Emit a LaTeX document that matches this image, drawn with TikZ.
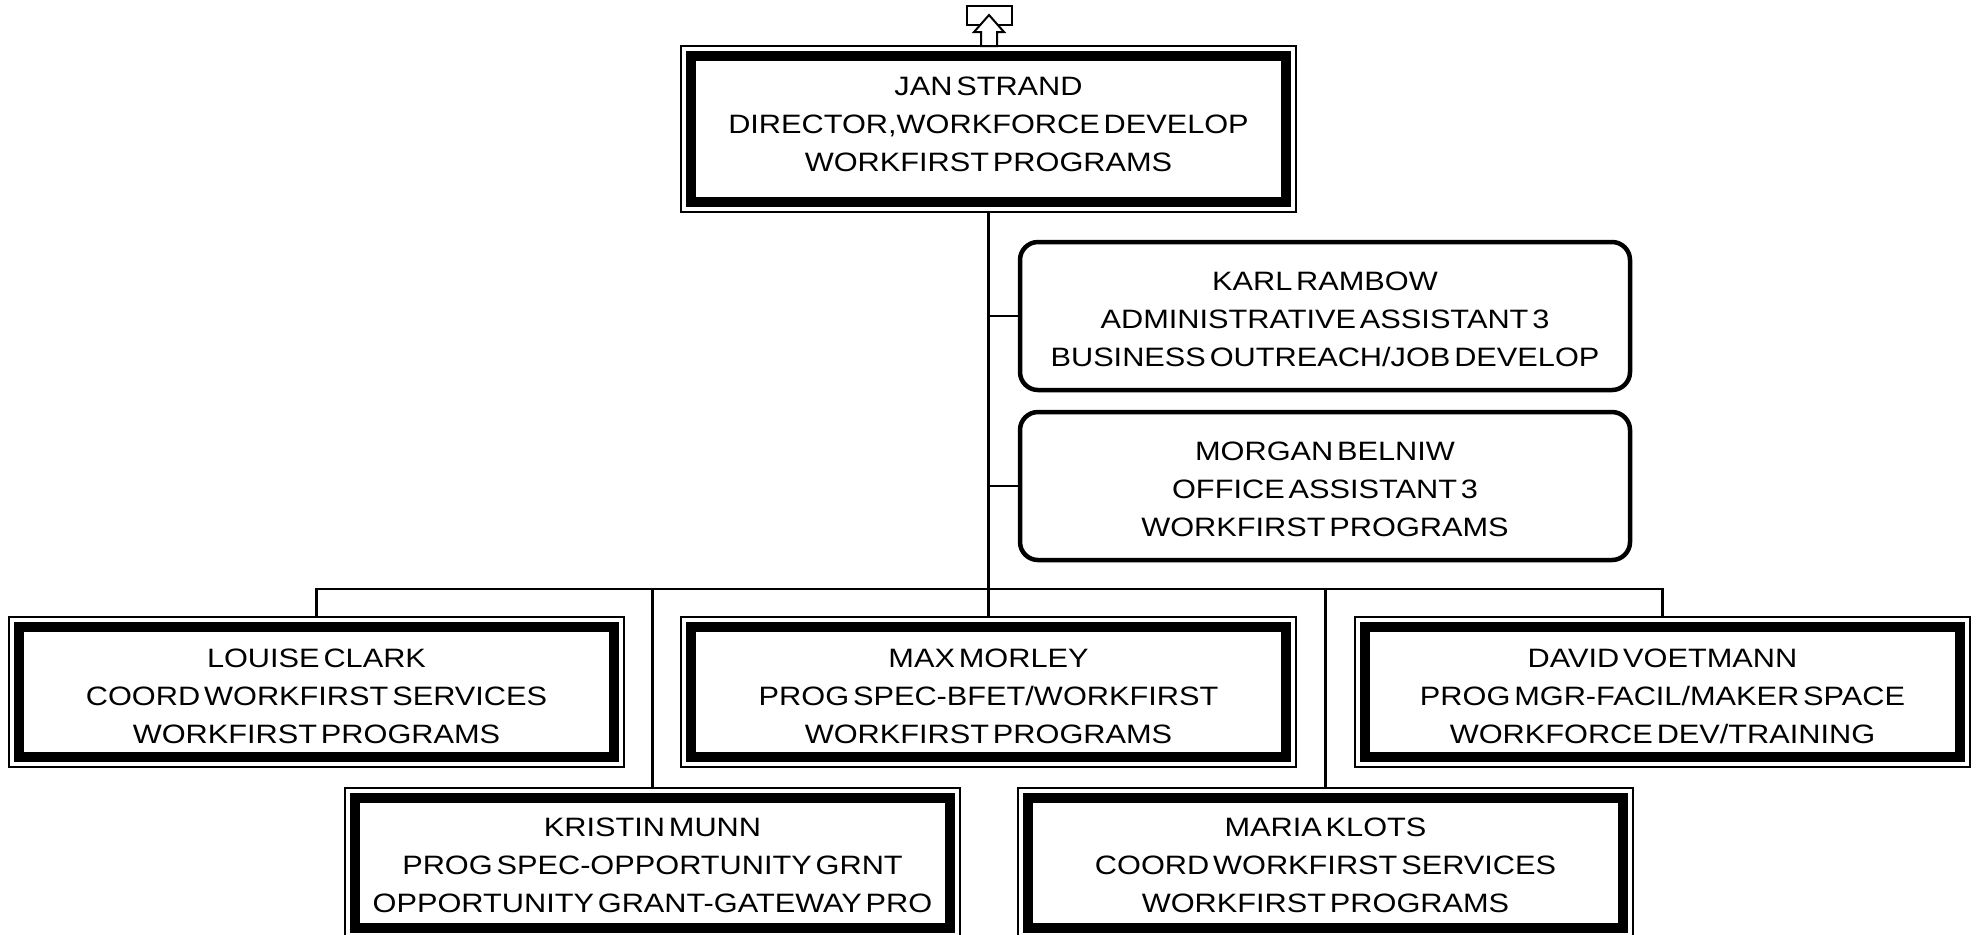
\documentclass[tikz,border=0pt]{standalone}
\usepackage{fontspec}
\setmainfont{Liberation Sans}[FakeStretch=1.155,WordSpace=0.45]
\usetikzlibrary{calc}

\begin{document}
\begin{tikzpicture}[
  x=0.5pt, y=-0.5pt,
  font=\fontsize{13.3}{19}\selectfont,
  wire/.style={line width=1.1pt, draw=black},
  post/.style={draw=black, fill=white, line width=1.25pt, align=center,
               inner sep=0pt, outer sep=0pt, minimum width=307.5pt,
               minimum height=#1, text height=51.9pt, text depth=0pt,
               path picture={\draw[line width=5pt]
                 ($(path picture bounding box.north west)+(5.1pt,-5.1pt)$) rectangle
                 ($(path picture bounding box.south east)+(-5.1pt,5.1pt)$);}},
  post/.default=75pt,
  aide/.style={draw=black, fill=white, line width=2.25pt, rounded corners=9pt,
               align=center, inner sep=0pt, outer sep=0pt,
               minimum width=305pt, minimum height=74pt,
               text height=50.5pt, text depth=0pt},
  icon/.style={draw=black, fill=white, line width=1pt},
]
\useasboundingbox (0,0) rectangle (1979,934);

% ---------------- director ----------------
\node[post=83pt, text height=47.5pt, text depth=5pt] (jan) at (988.5,129) {JAN STRAND\\DIRECTOR,WORKFORCE DEVELOP\\WORKFIRST PROGRAMS};

% ---------------- staff ----------------
\node[aide] (karl) at (1325,316) {KARL RAMBOW\\ADMINISTRATIVE ASSISTANT 3\\BUSINESS OUTREACH/JOB DEVELOP};
\node[aide] (morgan) at (1325,486) {MORGAN BELNIW\\OFFICE ASSISTANT 3\\WORKFIRST PROGRAMS};

% ---------------- reports ----------------
\node[post] (louise) at (316.5,692) {LOUISE CLARK\\COORD WORKFIRST SERVICES\\WORKFIRST PROGRAMS};
\node[post] (max) at (988.5,692) {MAX MORLEY\\PROG SPEC-BFET/WORKFIRST\\WORKFIRST PROGRAMS};
\node[post] (david) at (1662.5,692) {DAVID VOETMANN\\PROG MGR-FACIL/MAKER SPACE\\WORKFORCE DEV/TRAINING};
\node[post, text height=49.5pt] (kristin) at (652.5,863) {KRISTIN MUNN\\PROG SPEC-OPPORTUNITY GRNT\\OPPORTUNITY GRANT-GATEWAY PRO};
\node[post, text height=49.5pt] (maria) at (1325.5,863) {MARIA KLOTS\\COORD WORKFIRST SERVICES\\WORKFIRST PROGRAMS};

% ---------------- lines ----------------
\coordinate (bus) at (988.5,589);
\draw[wire] (jan.south) -- (max.north);
\draw[wire] (louise.north) |- (bus) -| (david.north);
\draw[wire] (kristin.north) -- (kristin.north |- bus);
\draw[wire] (maria.north) -- (maria.north |- bus);
\draw[wire] (karl.west) -- (karl.west -| jan.south);
\draw[wire] (morgan.west) -- (morgan.west -| jan.south);

% ---------------- up-link icon ----------------
\node[icon, minimum width=22.5pt, minimum height=9.5pt, inner sep=0pt] (up) at (989.5,15.5) {};
\draw[icon] (981,46) -- (981,32) -- (974,32) -- (989,15) -- (1004,32) -- (997,32) -- (997,46) -- cycle;

\end{tikzpicture}
\end{document}
